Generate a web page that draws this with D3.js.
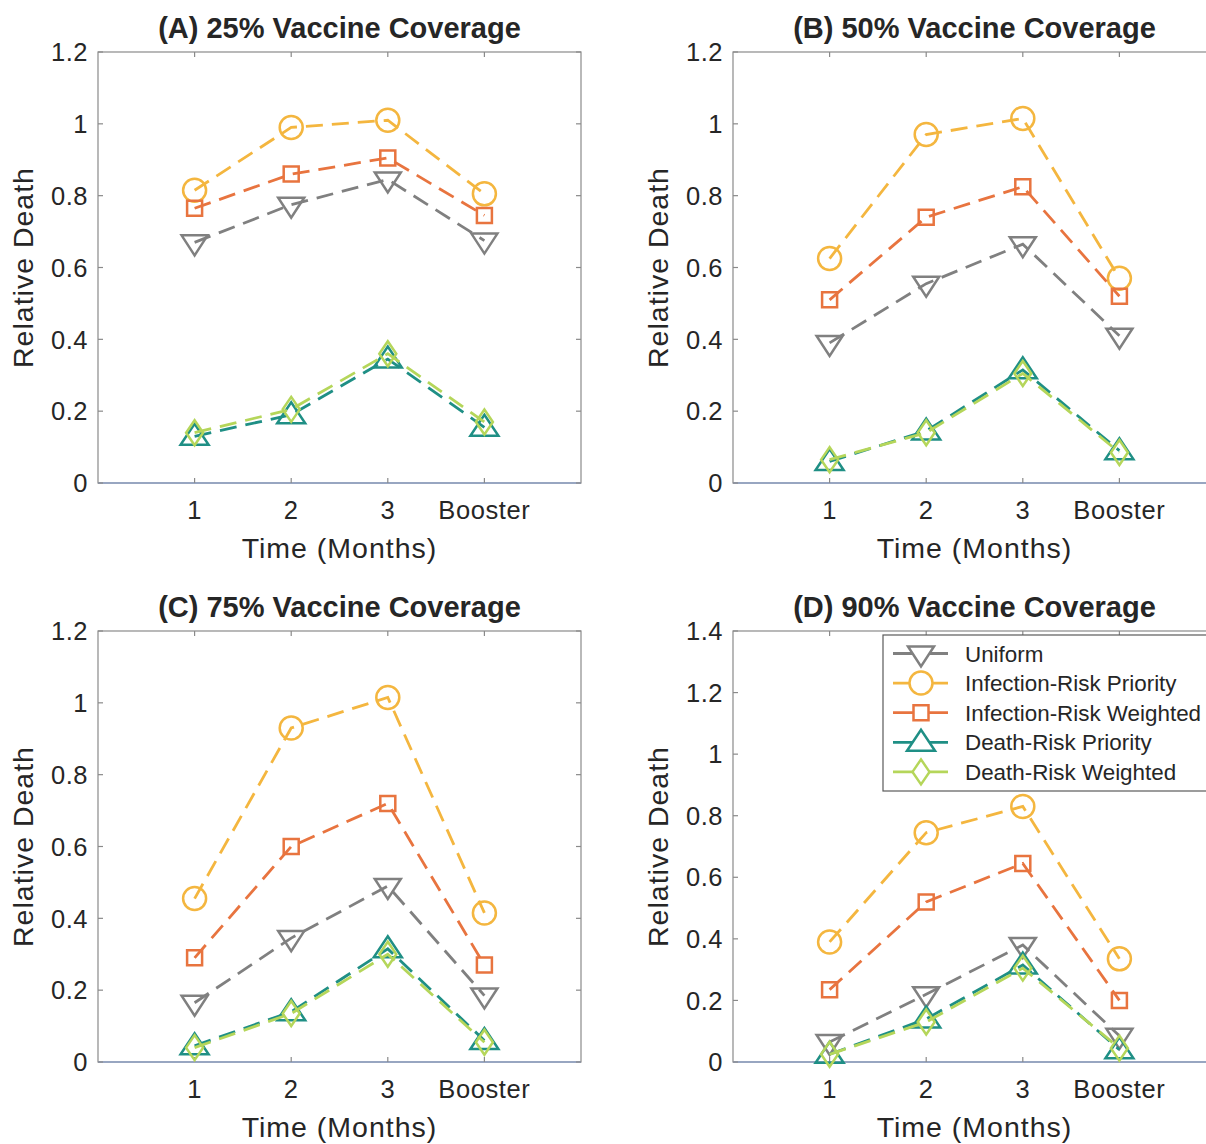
<!DOCTYPE html>
<html>
<head>
<meta charset="utf-8">
<script src="https://cdn.jsdelivr.net/npm/d3@7"></script>
<style>
  html, body { margin: 0; padding: 0; background: #fff; overflow: hidden; }
  svg { display: block; }
  text { font-family: "Liberation Sans", Arial, Helvetica, sans-serif; fill: #262626; }
</style>
</head>
<body>
<script>
// ---------------- DATA ----------------
const timeLabels = ["1", "2", "3", "Booster"];
const timePositions = [1, 2, 3, 4];
const panelTitles = [
  "(A) 25% Vaccine Coverage",
  "(B) 50% Vaccine Coverage",
  "(C) 75% Vaccine Coverage",
  "(D) 90% Vaccine Coverage"
];
const yMaxes = [1.2, 1.2, 1.2, 1.4];
const seriesNames = [
  "Uniform",
  "Infection-Risk Priority",
  "Infection-Risk Weighted",
  "Death-Risk Priority",
  "Death-Risk Weighted"
];
// values per panel (A, B, C, D), each with 4 time points
const uniform = [
  [0.67, 0.775, 0.845, 0.675],
  [0.39, 0.555, 0.665, 0.41],
  [0.165, 0.345, 0.49, 0.185],
  [0.065, 0.22, 0.38, 0.085]
];
const infectionRiskPriority = [
  [0.815, 0.99, 1.01, 0.805],
  [0.625, 0.97, 1.015, 0.57],
  [0.455, 0.93, 1.015, 0.415],
  [0.39, 0.745, 0.83, 0.335]
];
const infectionRiskWeighted = [
  [0.765, 0.86, 0.905, 0.745],
  [0.51, 0.74, 0.825, 0.52],
  [0.29, 0.60, 0.72, 0.27],
  [0.235, 0.52, 0.645, 0.20]
];
const deathRiskPriority = [
  [0.13, 0.19, 0.345, 0.155],
  [0.06, 0.145, 0.315, 0.09],
  [0.045, 0.14, 0.315, 0.06],
  [0.025, 0.14, 0.315, 0.04]
];
const deathRiskWeighted = [
  [0.14, 0.205, 0.36, 0.17],
  [0.065, 0.14, 0.305, 0.085],
  [0.04, 0.135, 0.30, 0.055],
  [0.025, 0.13, 0.305, 0.045]
];
const seriesValues = [uniform, infectionRiskPriority, infectionRiskWeighted, deathRiskPriority, deathRiskWeighted];

// ---------------- STYLE ----------------
const seriesColors = ["#808080", "#F4B63F", "#E8743F", "#1F8F85", "#B5D65A"];
const seriesMarkers = ["triangleDown", "circle", "square", "triangleUp", "diamond"];

const W = 1206, H = 1144;
const plotW = 483, plotH = 431;
const panelOrigins = [[98, 52], [733, 52], [98, 631], [733, 631]];

const svg = d3.select("body").append("svg")
  .attr("width", W).attr("height", H);

function markerPath(type) {
  const p = d3.path();
  switch (type) {
    case "circle":
      p.arc(0, 0, 11.5, 0, 2 * Math.PI); p.closePath(); break;
    case "square":
      p.rect(-7.5, -7.5, 15, 15); break;
    case "triangleDown":
      p.moveTo(-13, -7); p.lineTo(13, -7); p.lineTo(0, 13); p.closePath(); break;
    case "triangleUp":
      p.moveTo(-14, 8.5); p.lineTo(14, 8.5); p.lineTo(0, -12.5); p.closePath(); break;
    case "diamond":
      p.moveTo(0, -12.5); p.lineTo(8.5, 0); p.lineTo(0, 12.5); p.lineTo(-8.5, 0); p.closePath(); break;
  }
  return p.toString();
}

const fmt = v => {
  const s = d3.format(".1f")(v);
  return s.endsWith(".0") ? s.slice(0, -2) : s;
};

panelOrigins.forEach(([x0, y0], pi) => {
  const g = svg.append("g").attr("transform", `translate(${x0},${y0})`);
  const x = d3.scaleLinear().domain([0, 5]).range([0, plotW]);
  const y = d3.scaleLinear().domain([0, yMaxes[pi]]).range([plotH, 0]);
  const yTicks = d3.range(0, yMaxes[pi] + 1e-9, 0.2);

  // box
  g.append("rect").attr("x", 0).attr("y", 0).attr("width", plotW).attr("height", plotH)
    .attr("fill", "#fff").attr("stroke", "#8a8a8a").attr("stroke-width", 1.2);
  g.append("line").attr("x1", 0).attr("x2", plotW).attr("y1", plotH).attr("y2", plotH)
    .attr("stroke", "#8ea0c4").attr("stroke-width", 1.4);

  // inner ticks (x on top & bottom, y on left & right)
  const tl = 5;
  timePositions.forEach(t => {
    g.append("line").attr("x1", x(t)).attr("x2", x(t)).attr("y1", plotH).attr("y2", plotH - tl)
      .attr("stroke", "#8a8a8a").attr("stroke-width", 1.2);
    g.append("line").attr("x1", x(t)).attr("x2", x(t)).attr("y1", 0).attr("y2", tl)
      .attr("stroke", "#8a8a8a").attr("stroke-width", 1.2);
  });
  yTicks.forEach(v => {
    g.append("line").attr("x1", 0).attr("x2", tl).attr("y1", y(v)).attr("y2", y(v))
      .attr("stroke", "#8a8a8a").attr("stroke-width", 1.2);
    g.append("line").attr("x1", plotW).attr("x2", plotW - tl).attr("y1", y(v)).attr("y2", y(v))
      .attr("stroke", "#8a8a8a").attr("stroke-width", 1.2);
  });

  // tick labels
  g.selectAll(".ytl").data(yTicks).enter().append("text")
    .attr("x", -10).attr("y", d => y(d)).attr("dy", "0.36em")
    .attr("text-anchor", "end").attr("font-size", 25.5).attr("letter-spacing", 0.5)
    .text(d => fmt(d));
  g.selectAll(".xtl").data(timePositions).enter().append("text")
    .attr("x", d => x(d)).attr("y", plotH + 36)
    .attr("text-anchor", "middle").attr("font-size", 25.5).attr("letter-spacing", 0.6)
    .text((d, i) => timeLabels[i]);

  // axis labels
  g.append("text").attr("x", plotW / 2).attr("y", plotH + 75)
    .attr("text-anchor", "middle").attr("font-size", 28.5).attr("letter-spacing", 1)
    .text("Time (Months)");
  g.append("text").attr("transform", `translate(-65,${plotH / 2}) rotate(-90)`)
    .attr("text-anchor", "middle").attr("font-size", 28.5).attr("letter-spacing", 1)
    .text("Relative Death");

  // title
  g.append("text").attr("x", plotW / 2).attr("y", -14)
    .attr("text-anchor", "middle").attr("font-size", 29).attr("font-weight", "bold")
    .text(panelTitles[pi]);

  // series
  const line = d3.line().x(d => x(d[0])).y(d => y(d[1]));
  seriesValues.forEach((sv, si) => {
    const pts = timePositions.map((t, i) => [t, sv[pi][i]]);
    const sg = g.append("g");
    sg.append("path").attr("d", line(pts)).attr("fill", "none")
      .attr("stroke", seriesColors[si]).attr("stroke-width", 2.8)
      .attr("stroke-dasharray", "17,9");
    sg.selectAll(".m").data(pts).enter().append("path")
      .attr("d", markerPath(seriesMarkers[si]))
      .attr("transform", d => `translate(${x(d[0])},${y(d[1])})`)
      .attr("fill", "none").attr("stroke", seriesColors[si]).attr("stroke-width", 2.5);
  });
});

// legend (in panel D)
const lg = svg.append("g");
lg.append("rect").attr("x", 883).attr("y", 635).attr("width", 340).attr("height", 156)
  .attr("fill", "#fff").attr("stroke", "#5a5a5a").attr("stroke-width", 1.2);
const rowY = i => 653.5 + i * 29.6;
seriesNames.forEach((name, i) => {
  lg.append("line").attr("x1", 893).attr("x2", 948).attr("y1", rowY(i)).attr("y2", rowY(i))
    .attr("stroke", seriesColors[i]).attr("stroke-width", 2.8);
  lg.append("path").attr("d", markerPath(seriesMarkers[i]))
    .attr("transform", `translate(921,${rowY(i)})`)
    .attr("fill", "#fff").attr("stroke", seriesColors[i]).attr("stroke-width", 2.5);
  lg.append("text").attr("x", 965).attr("y", rowY(i)).attr("dy", "0.36em")
    .attr("font-size", 22.4).text(name);
});
</script>
</body>
</html>
